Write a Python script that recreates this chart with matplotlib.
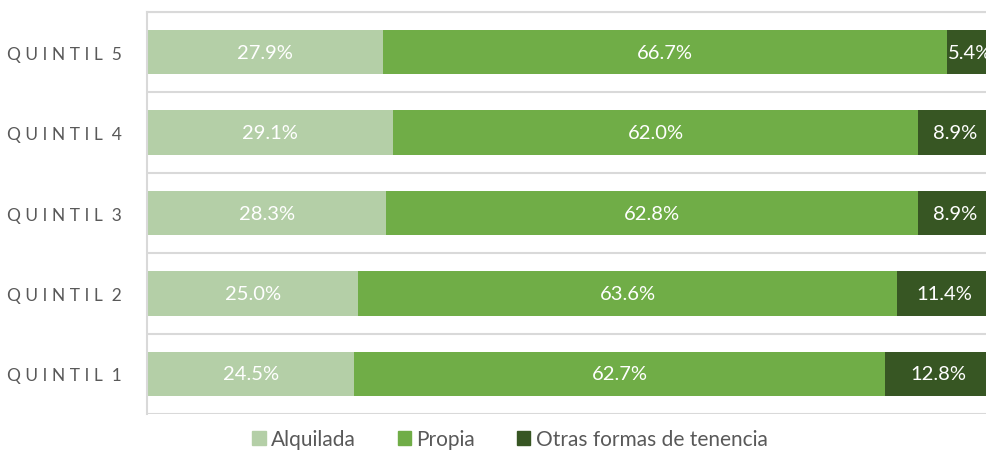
import numpy as np
from matplotlib import pyplot as plt
from matplotlib.patches import Patch

plt.rcParams["font.family"] = ["Lato", "DejaVu Sans"]

categories = ["QUINTIL 1", "QUINTIL 2", "QUINTIL 3", "QUINTIL 4", "QUINTIL 5"]
alquilada = [24.5, 25.0, 28.3, 29.1, 27.9]
propia = [62.7, 63.6, 62.8, 62.0, 66.7]
otras = [12.8, 11.4, 8.9, 8.9, 5.4]

series_names = ["Alquilada", "Propia", "Otras formas de tenencia"]
colors = ["#B4CFA7", "#70AD47", "#375623"]

fig = plt.figure(figsize=(9.87, 4.52), dpi=100)
# plot area runs a bit past the right edge, as in the original
ax = fig.add_axes([147 / 987, 1 - 415 / 452, 846 / 987, 402 / 452])

y = np.arange(len(categories))
left = np.zeros(len(categories))
for vals, name, color in zip([alquilada, propia, otras], series_names, colors):
    vals = np.array(vals)
    ax.barh(y, vals, left=left, height=0.55, color=color, label=name, zorder=2)
    for yi, (l, v) in enumerate(zip(left, vals)):
        ax.text(l + v / 2, yi, f"{v:.1f}%", ha="center", va="center",
                color="white", fontsize=14.5, zorder=3)
    left += vals

ax.set_xlim(0, 100)
ax.set_ylim(-0.5, len(categories) - 0.5)
ax.set_xticks([])
ax.set_yticks(y)
ax.set_yticklabels([" ".join(c.replace(" ", "")[:-1]) + "  " + c[-1] for c in categories],
                   fontsize=12.5, color="#595959")
ax.tick_params(axis="y", length=0, pad=18)

ax.set_yticks(np.arange(len(categories) + 1) - 0.5, minor=True)
ax.tick_params(axis="y", which="minor", length=0)
ax.grid(axis="y", which="minor", color="#D9D9D9", linewidth=1.5, zorder=0)

for side in ["right", "bottom"]:
    ax.spines[side].set_visible(False)
ax.spines["top"].set_color("#D9D9D9")
ax.spines["top"].set_linewidth(1.5)
ax.spines["left"].set_color("#D9D9D9")
ax.spines["left"].set_linewidth(1.5)

handles = [Patch(color=c, label=n) for n, c in zip(series_names, colors)]
fig.legend(handles=handles, loc="center", bbox_to_anchor=(510 / 987, 1 - 440 / 452),
           ncol=3, frameon=False, fontsize=15, handlelength=0.65, handleheight=0.65,
           handletextpad=0.25, columnspacing=2.0, labelcolor="#595959")

fig.savefig("out.png", dpi=100)
